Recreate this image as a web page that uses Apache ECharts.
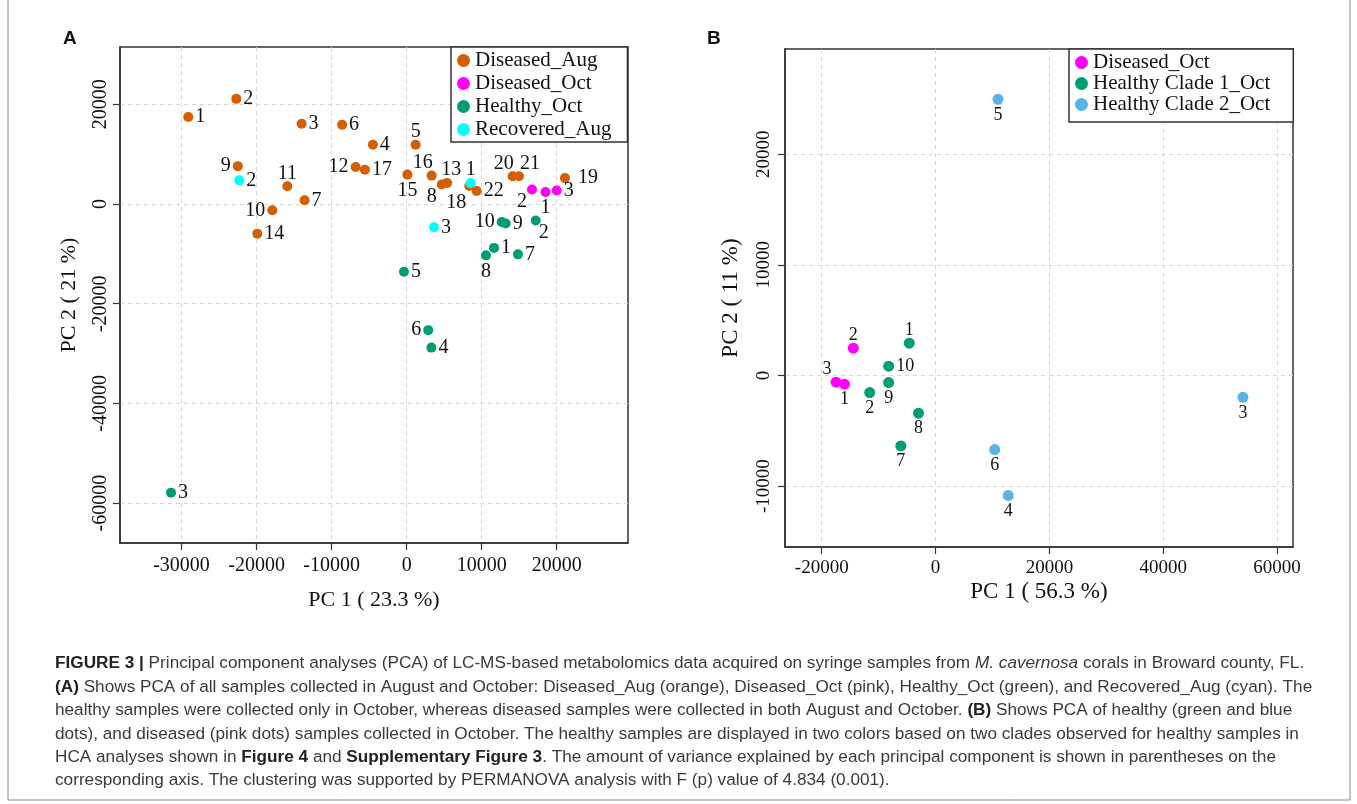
<!DOCTYPE html>
<html>
<head>
<meta charset="utf-8">
<title>PCA of LC-MS metabolomics data</title>
<script src="https://cdn.jsdelivr.net/npm/echarts@6.0.0/dist/echarts.min.js"></script>
<style>
  html, body { margin: 0; padding: 0; background: #fff; }
  #chart { width: 1357px; height: 804px; }
</style>
</head>
<body>
<div id="chart"></div>
<script>
// ---- Panel A: all samples (Aug + Oct) ----
const augIds = [1, 2, 3, 4, 5, 6, 7, 8, 9, 10, 11, 12, 13, 14, 15, 16, 17, 18, 19, 20, 21, 22];
const augPC1 = [-29100, -22700, -14000, -4500, 1200, -8600, -13600, 4670, -22500, -17900, -15900,
  -6800, 5400, -19900, 100, 3330, -5560, 8350, 21100, 14130, 14970, 9330];
const augPC2 = [17450, 21100, 16100, 11900, 11900, 15900, 740, 3900, 7600, -1260, 3550,
  7420, 4200, -5940, 5900, 5700, 6900, 3600, 5200, 5560, 5560, 2600];

const octDisIds = [1, 2, 3];
const octDisPC1 = [18500, 16700, 20000];
const octDisPC2 = [2400, 2900, 2700];

const octHealthyIds = [1, 2, 3, 4, 5, 6, 7, 8, 9, 10];
const octHealthyPC1 = [11640, 17200, -31400, 3300, -360, 2880, 14840, 10570, 13200, 12670];
const octHealthyPC2 = [-8800, -3300, -57900, -28800, -13600, -25300, -10100, -10300, -3900, -3600];

const recIds = [1, 2, 3];
const recPC1 = [8530, -22300, 3640];
const recPC2 = [4200, 4750, -4670];

// ---- Panel B: October samples only ----
const bDisIds = [1, 2, 3];
const bDisPC1 = [-16000, -14450, -17480];
const bDisPC2 = [-790, 2470, -610];

const bClade1Ids = [1, 2, 7, 8, 9, 10];
const bClade1PC1 = [-4620, -11570, -6100, -2990, -8240, -8240];
const bClade1PC2 = [2920, -1550, -6370, -3410, -640, 840];

const bClade2Ids = [3, 4, 5, 6];
const bClade2PC1 = [54000, 12760, 10980, 10390];
const bClade2PC2 = [-1970, -10840, 24950, -6700];

// tick labels
const ticksAx = [-30000, -20000, -10000, 0, 10000, 20000];
const ticksAy = [-60000, -40000, -20000, 0, 20000];
const ticksBx = [-20000, 0, 20000, 40000, 60000];
const ticksBy = [-10000, 0, 10000, 20000];

// where each sample number sits next to its dot
const augLbl = ['r', 'r', 'r', 'r', 't', 'r', 'r', 'bl', 'l', 'l', 't', 'l', 'tr', 'r', 'b', 'tl',
  'r', 'bl2', 'r2', 'tl', 'tr2', 'r'];
const octDisLbl = ['b', 'bl', 'r'];
const octHealthyLbl = ['r', 'br', 'r', 'r', 'r', 'l', 'r', 'b', 'r', 'l'];
const recLbl = ['t', 'r', 'r'];
const bDisLbl = ['b', 't', 'tl'];
const bClade1Lbl = ['t', 'b', 'b', 'b', 'b', 'r'];
const bClade2Lbl = ['b', 'b', 'b', 'b'];

const SERIF = 'Liberation Serif, Times New Roman, serif';
const SANS = 'Liberation Sans, Arial, sans-serif';

const LBL = {
  r: { position: 'right', distance: 2 },
  r2: { position: 'right', distance: 8 },
  l: { position: 'left', distance: 2 },
  t: { position: 'top', distance: -2 },
  b: { position: 'bottom', distance: 1 },
  tl: { position: 'top', distance: -2, offset: [-9, 0] },
  tr: { position: 'top', distance: -2, offset: [4, 0] },
  tr2: { position: 'top', distance: -2, offset: [11, 0] },
  bl: { position: 'bottom', distance: -3, offset: [-10, 0] },
  bl2: { position: 'bottom', distance: 2, offset: [-13, 0] },
  br: { position: 'bottom', distance: -3, offset: [8, 0] },
};

function points(ids, xs, ys, pos) {
  return ids.map((id, i) => ({
    value: [xs[i], ys[i]],
    name: String(id),
    label: LBL[pos[i]],
  }));
}

function scatter(name, color, data, axis, size, fontSize) {
  return {
    name: name,
    type: 'scatter',
    xAxisIndex: axis,
    yAxisIndex: axis,
    data: data,
    symbolSize: size,
    itemStyle: { color: color, opacity: 1 },
    label: {
      show: true,
      formatter: '{b}',
      fontFamily: SERIF,
      fontSize: fontSize,
      color: '#111',
    },
    emphasis: { disabled: true },
  };
}

function valueAxis(grid, min, max, ticks, opts, labelOpts) {
  return Object.assign({
    type: 'value',
    gridIndex: grid,
    min: min,
    max: max,
    nameLocation: 'middle',
    nameMoveOverlap: false,
    nameTextStyle: { fontFamily: SERIF, fontSize: 22, color: '#111' },
    axisLine: { show: true, onZero: false, lineStyle: { color: '#333', width: 1.5 } },
    axisTick: { show: true, inside: false, length: 7, customValues: ticks, lineStyle: { color: '#333', width: 1.2 } },
    axisLabel: Object.assign({
      customValues: ticks,
      formatter: (v) => String(v),
      fontFamily: SERIF,
      fontSize: 20,
      color: '#111',
      margin: 12,
    }, labelOpts),
    splitLine: { show: true, lineStyle: { color: '#d6d6d6', width: 1, type: [4, 4] } },
  }, opts);
}

const legendBase = {
  orient: 'vertical',
  icon: 'circle',
  itemWidth: 13,
  itemHeight: 13,
  itemGap: 0,
  selectedMode: false,
  backgroundColor: '#fff',
  borderColor: '#333',
  borderWidth: 1.5,
  borderRadius: 0,
  textStyle: { fontFamily: SERIF, fontSize: 21, color: '#111', lineHeight: 23 },
};

function captionLine(y, text) {
  const base = { fontFamily: SANS, fontSize: 17.2, fill: '#3a3a3a' };
  return {
    type: 'text',
    left: 55,
    top: y - 7,
    style: Object.assign({
      text: text,
      rich: {
        b: Object.assign({}, base, { fontWeight: 'bold', fill: '#222' }),
        i: Object.assign({}, base, { fontStyle: 'italic' }),
      },
    }, base),
  };
}

const chart = echarts.init(document.getElementById('chart'));

chart.setOption({
  animation: false,
  backgroundColor: '#fff',
  grid: [
    { left: 120, top: 47, width: 508, height: 496, show: true, borderColor: '#333', borderWidth: 1.5 },
    { left: 785, top: 49, width: 508, height: 498, show: true, borderColor: '#333', borderWidth: 1.5 },
  ],
  xAxis: [
    valueAxis(0, -38200, 29500, ticksAx, { name: 'PC 1 ( 23.3 %)', nameGap: 46 }, { margin: 13 }),
    valueAxis(1, -26450, 62800, ticksBx, {
      name: 'PC 1 ( 56.3 %)', nameGap: 33,
      nameTextStyle: { fontFamily: SERIF, fontSize: 23, color: '#111' },
    }, { fontSize: 19 }),
  ],
  yAxis: [
    valueAxis(0, -68000, 31500, ticksAy, { name: 'PC 2 ( 21 %)', nameGap: 40 }, { rotate: 90, margin: 9 }),
    valueAxis(1, -15500, 29500, ticksBy, {
      name: 'PC 2 ( 11 %)', nameGap: 43,
      nameTextStyle: { fontFamily: SERIF, fontSize: 23, color: '#111' },
    }, { rotate: 90, margin: 11, fontSize: 19 }),
  ],
  legend: [
    Object.assign({}, legendBase, {
      left: 451, top: 47, padding: [2, 16, 1, 6],
      data: ['Diseased_Aug', 'Diseased_Oct', 'Healthy_Oct', 'Recovered_Aug'],
    }),
    Object.assign({}, legendBase, {
      left: 1069, top: 49, padding: [3, 23, 7, 6],
      textStyle: { fontFamily: SERIF, fontSize: 21, color: '#111', lineHeight: 19 },
      data: ['Diseased_Oct', 'Healthy Clade 1_Oct', 'Healthy Clade 2_Oct'],
    }),
  ],
  series: [
    scatter('Diseased_Aug', '#D55E00', points(augIds, augPC1, augPC2, augLbl), 0, 10, 20),
    scatter('Diseased_Oct', '#FF00FF', points(octDisIds, octDisPC1, octDisPC2, octDisLbl), 0, 10, 20),
    scatter('Healthy_Oct', '#009E73', points(octHealthyIds, octHealthyPC1, octHealthyPC2, octHealthyLbl), 0, 10, 20),
    scatter('Recovered_Aug', '#00FFFF', points(recIds, recPC1, recPC2, recLbl), 0, 10, 20),
    scatter('Diseased_Oct', '#FF00FF', points(bDisIds, bDisPC1, bDisPC2, bDisLbl), 1, 11, 18),
    scatter('Healthy Clade 1_Oct', '#009E73', points(bClade1Ids, bClade1PC1, bClade1PC2, bClade1Lbl), 1, 11, 18),
    scatter('Healthy Clade 2_Oct', '#56B4E9', points(bClade2Ids, bClade2PC1, bClade2PC2, bClade2Lbl), 1, 11, 18),
  ],
  graphic: [
    {
      type: 'rect', silent: true, z: -1,
      shape: { x: 8, y: -2, width: 1342, height: 802 },
      style: { fill: 'none', stroke: '#888', lineWidth: 1 },
    },
    { type: 'text', left: 63, top: 29, style: { text: 'A', fontFamily: SANS, fontSize: 19, fontWeight: 'bold', fill: '#111' } },
    { type: 'text', left: 707, top: 29, style: { text: 'B', fontFamily: SANS, fontSize: 19, fontWeight: 'bold', fill: '#111' } },
    captionLine(662, '{b|FIGURE 3 |} Principal component analyses (PCA) of LC-MS-based metabolomics data acquired on syringe samples from {i|M. cavernosa} corals in Broward county, FL.'),
    captionLine(686, '{b|(A)} Shows PCA of all samples collected in August and October: Diseased_Aug (orange), Diseased_Oct (pink), Healthy_Oct (green), and Recovered_Aug (cyan). The'),
    captionLine(709, 'healthy samples were collected only in October, whereas diseased samples were collected in both August and October. {b|(B)} Shows PCA of healthy (green and blue'),
    captionLine(733, 'dots), and diseased (pink dots) samples collected in October. The healthy samples are displayed in two colors based on two clades observed for healthy samples in'),
    captionLine(756, 'HCA analyses shown in {b|Figure 4} and {b|Supplementary Figure 3}. The amount of variance explained by each principal component is shown in parentheses on the'),
    captionLine(779, 'corresponding axis. The clustering was supported by PERMANOVA analysis with F (p) value of 4.834 (0.001).'),
  ],
});

window.addEventListener('resize', () => chart.resize());
</script>
</body>
</html>
